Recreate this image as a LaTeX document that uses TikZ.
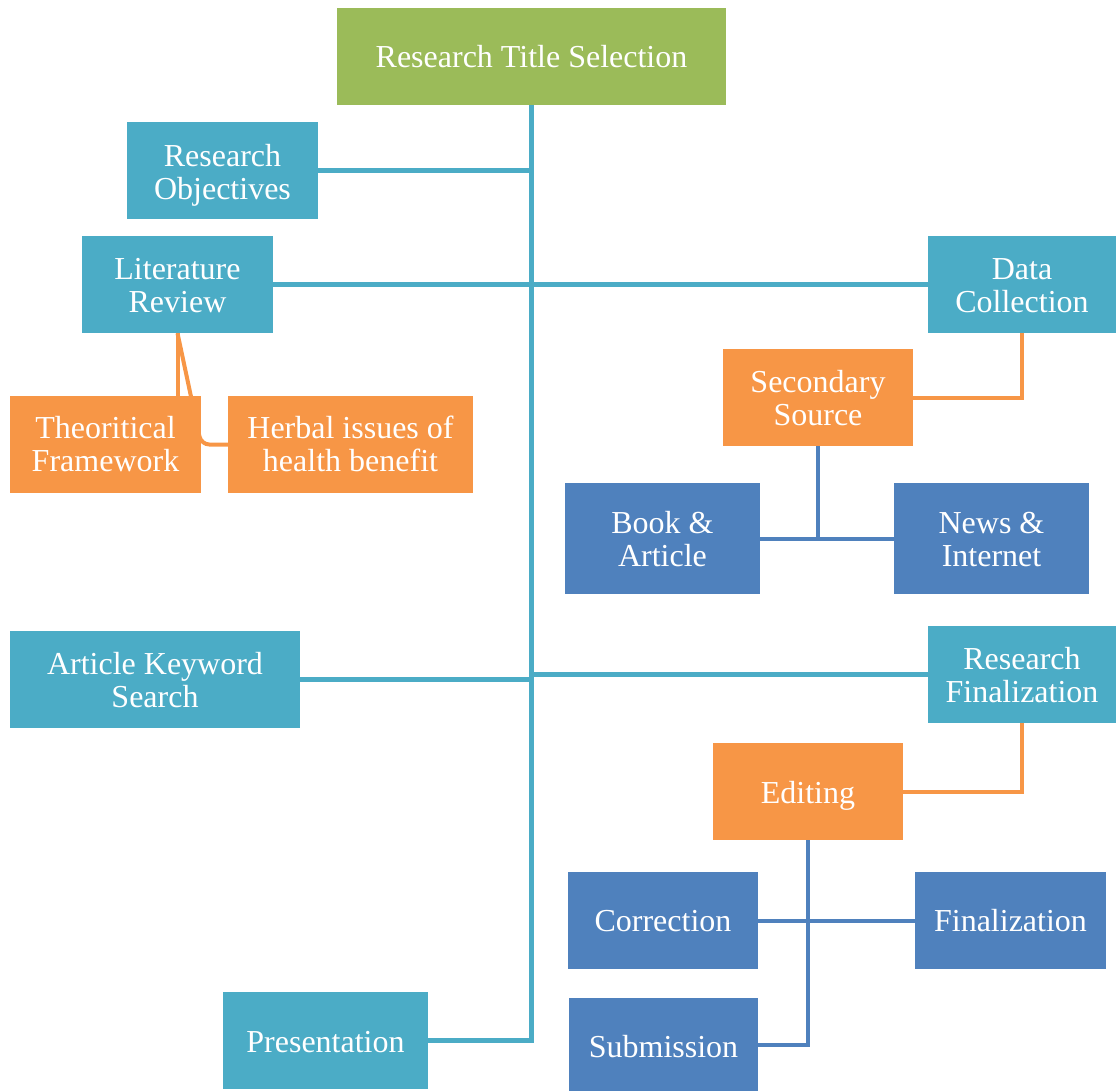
\documentclass[tikz,border=0pt]{standalone}
\usepackage{fontspec}
\setmainfont{Liberation Serif}
\usetikzlibrary{backgrounds}
\definecolor{cteal}{HTML}{4BACC6}
\definecolor{cgreen}{HTML}{9BBB59}
\definecolor{corange}{HTML}{F79646}
\definecolor{cblue}{HTML}{4F81BD}
\newcommand\twoline[2][5pt]{\raisebox{-#1}[\height][\depth]{\begin{tabular}{@{}c@{}}#2\end{tabular}}}
\newcommand\oneline[2][0pt]{\raisebox{-#1}[\height][\depth]{#2}}
\tikzset{
  box/.style={fill=#1, draw=none, text=white, align=center, inner sep=0pt,
    font=\fontsize{32}{33}\selectfont},
  tealline/.style={draw=cteal, line width=4.5pt},
  orangeline/.style={draw=corange, line width=4pt},
  blueline/.style={draw=cblue, line width=4pt},
}
\begin{document}
\begin{tikzpicture}[x=1pt,y=-1pt]
\useasboundingbox (0,0) rectangle (1116,1091);
\node[box=cgreen, minimum width=389pt, minimum height=97pt] (title) at (531.5,56.5) {\oneline{Research Title Selection}};
\node[box=cteal, minimum width=191pt, minimum height=97pt] (ro) at (222.5,170.5) {\twoline[6pt]{Research\\Objectives}};
\node[box=cteal, minimum width=191pt, minimum height=97pt] (lr) at (177.5,284.5) {\twoline{Literature\\Review}};
\node[box=cteal, minimum width=188pt, minimum height=97pt] (dc) at (1022,284.5) {\twoline{Data\\Collection}};
\node[box=corange, minimum width=190pt, minimum height=97pt] (ss) at (818,397.5) {\twoline{Secondary\\Source}};
\node[box=corange, minimum width=191pt, minimum height=97pt] (tf) at (105.5,444.5) {\twoline[4pt]{Theoritical\\Framework}};
\node[box=corange, minimum width=245pt, minimum height=97pt] (hi) at (350.5,444.5) {\twoline[4pt]{Herbal issues of\\health benefit}};
\node[box=cblue, minimum width=195pt, minimum height=111pt] (ba) at (662.5,538.5) {\twoline[4.5pt]{Book \&\\Article}};
\node[box=cblue, minimum width=195pt, minimum height=111pt] (ni) at (991.5,538.5) {\twoline[4.5pt]{News \&\\Internet}};
\node[box=cteal, minimum width=290pt, minimum height=97pt] (aks) at (155,679.5) {\twoline{Article Keyword\\Search}};
\node[box=cteal, minimum width=188pt, minimum height=97pt] (rf) at (1022,674.5) {\twoline[4.5pt]{Research\\Finalization}};
\node[box=corange, minimum width=190pt, minimum height=97pt] (ed) at (808,791.5) {\oneline[4pt]{Editing}};
\node[box=cblue, minimum width=190pt, minimum height=97pt] (corr) at (663,920.5) {\oneline[1pt]{Correction}};
\node[box=cblue, minimum width=191pt, minimum height=97pt] (fin) at (1010.5,920.5) {\oneline{Finalization}};
\node[box=cblue, minimum width=189pt, minimum height=93pt] (sub) at (663.5,1044.5) {\oneline[2pt]{Submission}};
\node[box=cteal, minimum width=205pt, minimum height=97pt] (pres) at (325.5,1040.5) {\oneline[2pt]{Presentation}};
\coordinate (bend) at (tf.east |- hi.west);
\begin{scope}[on background layer]
\draw[tealline] (title.south) |- (pres.east);
\draw[tealline] (ro.east) -- (ro.east -| title.south);
\draw[tealline] (lr.east) -- (dc.west);
\draw[tealline] (aks.east) -- (aks.east -| title.south);
\draw[tealline] (rf.west) -- (rf.west -| title.south);
\draw[orangeline] (dc.south) |- (ss.east);
\draw[orangeline] (rf.south) |- (ed.east);
\draw[orangeline] (lr.south) -- (tf.north -| lr.south);
\draw[orangeline, rounded corners=8pt] (lr.south) -- (bend) -- (hi.west);
\draw[blueline] (ss.south) -- (ss.south |- ba.east);
\draw[blueline] (ba.east) -- (ni.west);
\draw[blueline] (ed.south) |- (sub.east);
\draw[blueline] (corr.east) -- (fin.west);
\end{scope}
\end{tikzpicture}
\end{document}
